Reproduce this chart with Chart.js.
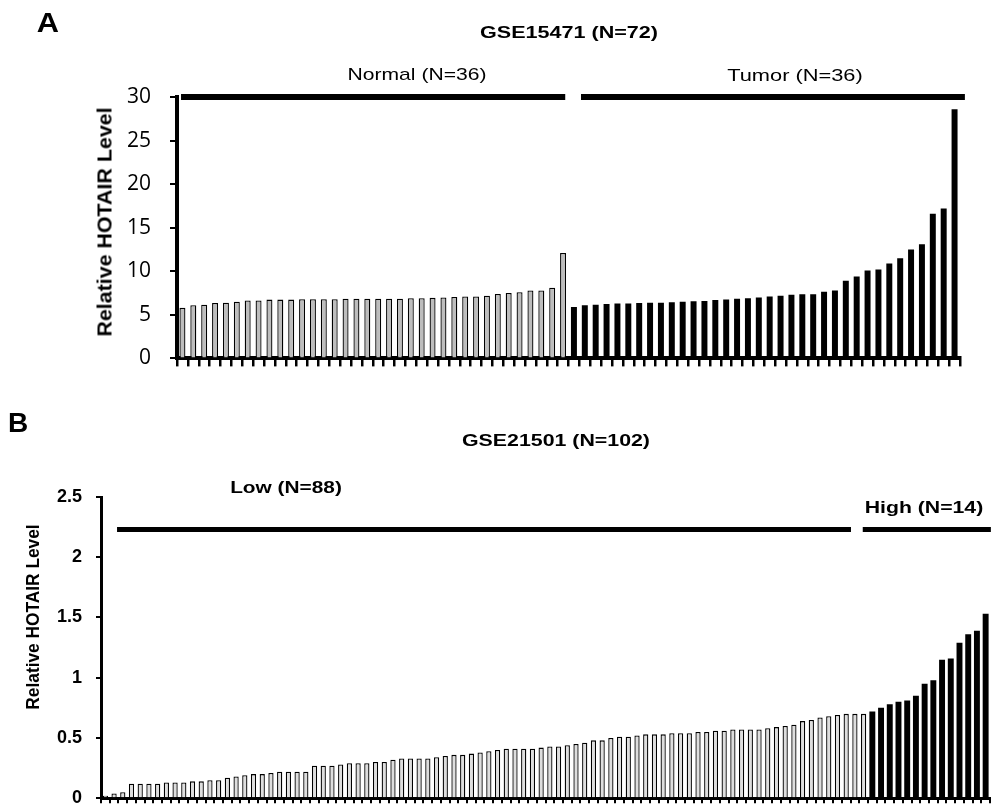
<!DOCTYPE html>
<html>
<head>
<meta charset="utf-8">
<script src="https://cdn.jsdelivr.net/npm/chart.js@4.4.0/dist/chart.umd.min.js"></script>
<style>
  body { margin: 0; background: #fff; }
  #page { position: relative; width: 992px; height: 807px; overflow: hidden; font-family: "Liberation Sans", Arial, sans-serif; }
  .box { position: absolute; }
  .txt { position: absolute; white-space: nowrap; color: #000; line-height: 1; }
</style>
</head>
<body>
<div id="page">
  <div class="box" style="left:0;top:0;width:992px;height:390px"><canvas id="chartA"></canvas></div>
  <div class="box" style="left:0;top:380px;width:992px;height:443px"><canvas id="chartB"></canvas></div>
</div>
<script>
// Datos del panel A (GSE15471)
const normalLevels = [5.8, 6.1, 6.15, 6.35, 6.4, 6.5, 6.65, 6.65, 6.75, 6.75, 6.75, 6.8, 6.8, 6.8, 6.8, 6.85, 6.85, 6.85,
  6.85, 6.85, 6.85, 6.9, 6.9, 6.95, 7.0, 7.05, 7.1, 7.1, 7.2, 7.4, 7.5, 7.6, 7.8, 7.8, 8.1, 12.1];
const tumorLevels = [5.9, 6.1, 6.15, 6.25, 6.3, 6.3, 6.35, 6.4, 6.4, 6.45, 6.5, 6.55, 6.6, 6.7, 6.75, 6.85, 6.9, 7.0,
  7.1, 7.2, 7.3, 7.35, 7.35, 7.65, 7.8, 8.9, 9.4, 10.1, 10.2, 10.9, 11.5, 12.5, 13.1, 16.6, 17.2, 28.6];
const ticksA = [0, 5, 10, 15, 20, 25, 30];

// Datos del panel B (GSE21501)
const lowLevels = [0.02, 0.04, 0.05, 0.12, 0.12, 0.12, 0.12, 0.13, 0.13, 0.13, 0.14, 0.14, 0.15, 0.15, 0.17, 0.18,
  0.19, 0.20, 0.20, 0.21, 0.22, 0.22, 0.22, 0.22, 0.27, 0.27, 0.27, 0.28, 0.29, 0.29, 0.29, 0.30,
  0.30, 0.32, 0.33, 0.33, 0.33, 0.33, 0.34, 0.35, 0.36, 0.36, 0.37, 0.38, 0.39, 0.40, 0.41, 0.41, 0.41, 0.41,
  0.42, 0.43, 0.43, 0.44, 0.45, 0.46, 0.48, 0.48, 0.50, 0.51, 0.51, 0.52, 0.53, 0.53, 0.53, 0.54, 0.54, 0.54,
  0.55, 0.55, 0.56, 0.56, 0.57, 0.57, 0.57, 0.57, 0.58, 0.59, 0.60, 0.61, 0.64, 0.65, 0.67, 0.68, 0.69, 0.70, 0.70, 0.70];
const highLevels = [0.72, 0.75, 0.78, 0.80, 0.81, 0.85, 0.95, 0.98, 1.15, 1.16, 1.29, 1.36, 1.39, 1.53];
const ticksB = [0, 0.5, 1, 1.5, 2, 2.5];

// Barras de grupo (en unidades de categoría y valor)
const groupsA = [{ from: -0.13, to: 35.2, y: 30 }, { from: 36.65, to: 71.95, y: 30 }];
const groupsB = [{ from: 1.34, to: 85.55, y: 2.23 }, { from: 86.9, to: 101.6, y: 2.23 }];

// Plugin que dibuja las líneas horizontales sobre cada grupo
const groupBars = {
  id: 'groupBars',
  afterDatasetsDraw(chart, args, opts) {
    const { ctx } = chart;
    const x = chart.scales.x, y = chart.scales.y;
    ctx.save();
    ctx.strokeStyle = '#000';
    ctx.lineWidth = opts.width;
    opts.spans.forEach(s => {
      const py = y.getPixelForValue(s.y);
      ctx.beginPath();
      ctx.moveTo(x.getPixelForValue(s.from), py);
      ctx.lineTo(x.getPixelForValue(s.to), py);
      ctx.stroke();
    });
    ctx.restore();
  }
};

function padNulls(arr) { return arr.map(() => null); }

function buildChart(id, cfg) {
  const labels = cfg.first.map((_, i) => cfg.prefix[0] + (i + 1)).concat(cfg.second.map((_, i) => cfg.prefix[1] + (i + 1)));
  return new Chart(document.getElementById(id), {
    type: 'bar',
    data: {
      labels,
      datasets: [{
        data: cfg.first.concat(padNulls(cfg.second)),
        backgroundColor: cfg.lightFill,
        borderColor: '#000',
        borderWidth: 1.3,
        barPercentage: cfg.barPct[0],
        categoryPercentage: 1,
        grouped: false
      }, {
        data: padNulls(cfg.first).concat(cfg.second),
        backgroundColor: '#000',
        borderWidth: 0,
        barPercentage: cfg.barPct[1],
        categoryPercentage: 1,
        grouped: false
      }]
    },
    options: {
      responsive: true,
      maintainAspectRatio: false,
      animation: false,
      layout: { padding: cfg.padding },
      plugins: {
        legend: { display: false },
        tooltip: { enabled: false },
        groupBars: { spans: cfg.groups, width: cfg.groupWidth }
      },
      scales: {
        x: {
          offset: true,
          grid: { offset: true, drawOnChartArea: false, tickLength: cfg.xTick, color: '#000', lineWidth: cfg.xTickWidth },
          border: { color: '#000', width: cfg.axisWidth },
          ticks: { display: false, autoSkip: false }
        },
        y: {
          min: cfg.ticks[0],
          max: cfg.ticks[cfg.ticks.length - 1],
          afterBuildTicks: s => { s.ticks = cfg.ticks.map(v => ({ value: v })); },
          afterFit: s => { s.width = cfg.yWidth; },
          grid: { drawOnChartArea: false, tickLength: cfg.yTick, color: '#000', lineWidth: 2 },
          border: { color: '#000', width: cfg.axisWidth },
          ticks: { color: '#000', font: cfg.tickFont, padding: cfg.tickPad, callback: v => String(v) }
        }
      }
    },
    plugins: [groupBars]
  });
}

buildChart('chartA', {
  first: normalLevels, second: tumorLevels, prefix: ['N', 'T'],
  lightFill: '#bdbdbd', barPct: [0.55, 0.55],
  padding: { left: 0, top: 97, right: 32, bottom: 14 },
  groups: groupsA, groupWidth: 6,
  xTick: 8, xTickWidth: 2.5, yTick: 7, axisWidth: 4,
  ticks: ticksA, yWidth: 177, tickPad: 19,
  tickFont: { family: 'Open Sans', size: 21 }
});

buildChart('chartB', {
  first: lowLevels, second: highLevels, prefix: ['L', 'H'],
  lightFill: '#dedede', barPct: [0.6, 0.68],
  padding: { left: 0, top: 117, right: 2, bottom: 4 },
  groups: groupsB, groupWidth: 5,
  xTick: 5, xTickWidth: 2, yTick: 5, axisWidth: 3,
  ticks: ticksB, yWidth: 101, tickPad: 14,
  tickFont: { family: 'Liberation Sans', size: 18, weight: 'bold' }
});

// Textos del gráfico (títulos, etiquetas de grupo, ejes)
function placeText(str, cx, cy, font, targetW, rotate) {
  const el = document.createElement('div');
  el.className = 'txt';
  el.textContent = str;
  el.style.font = font;
  el.style.left = cx + 'px';
  el.style.top = cy + 'px';
  document.getElementById('page').appendChild(el);
  const k = targetW / el.offsetWidth;
  el.style.transform = 'translate(-50%, -50%)' + (rotate ? ' rotate(-90deg)' : '') + ' scaleX(' + k.toFixed(3) + ')';
}

placeText('A', 48, 23, 'bold 28px "Liberation Sans"', 22);
placeText('GSE15471 (N=72)', 569, 33, 'bold 16px "Liberation Sans"', 178);
placeText('Normal (N=36)', 417, 75, '17px "Liberation Sans"', 139);
placeText('Tumor (N=36)', 795, 76, '17px "Liberation Sans"', 136);
placeText('Relative HOTAIR Level', 105, 222, 'bold 20px "Liberation Sans"', 229, true);

placeText('B', 18, 423, 'bold 28px "Liberation Sans"', 20);
placeText('GSE21501 (N=102)', 556, 441, 'bold 16px "Liberation Sans"', 188);
placeText('Low (N=88)', 286, 488, 'bold 16px "Liberation Sans"', 112);
placeText('High (N=14)', 924, 508, 'bold 16px "Liberation Sans"', 118);
placeText('Relative HOTAIR Level', 33, 617, 'bold 19px "Liberation Sans"', 185, true);
</script>
</body>
</html>
